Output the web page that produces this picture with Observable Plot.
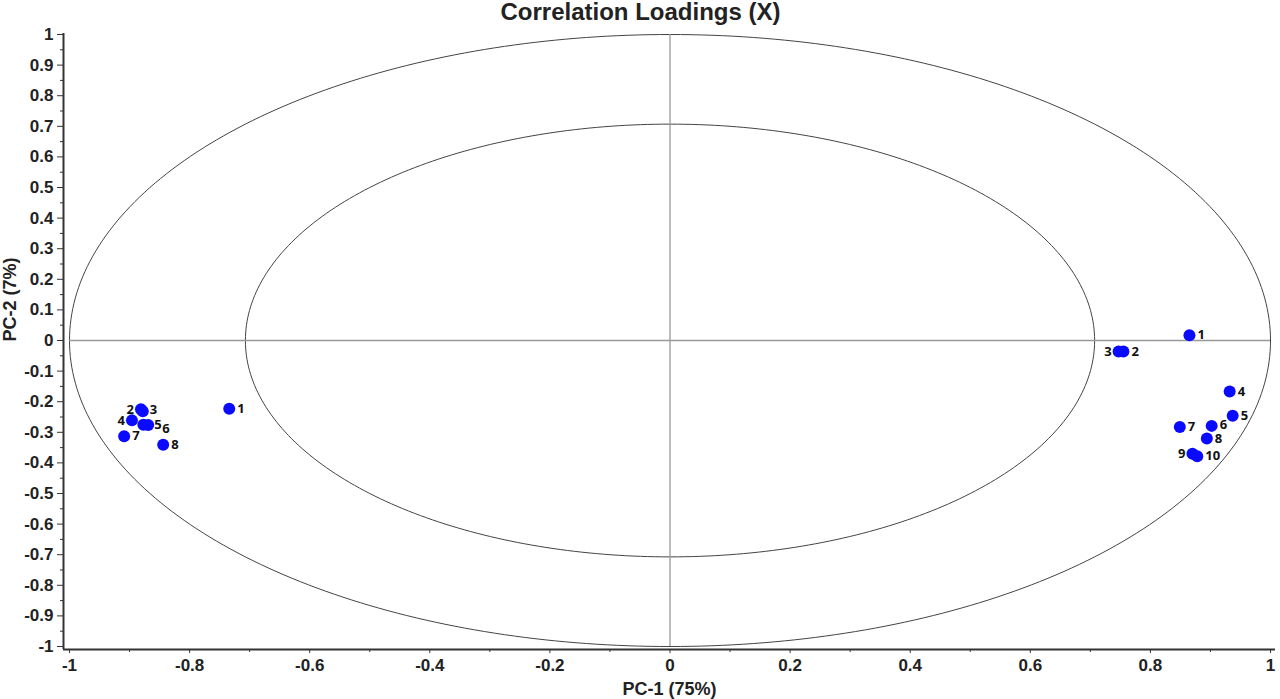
<!DOCTYPE html>
<html><head><meta charset="utf-8">
<script src="https://cdn.jsdelivr.net/npm/d3@7"></script>
<script src="https://cdn.jsdelivr.net/npm/@observablehq/plot@0.6"></script>
<style>body{margin:0;background:#fff} #chart svg{display:block}</style>
</head><body><div id="chart"></div>
<script>
// ---- data ----
const labels = ["1","2","3","4","5","6","7","8","1","2","3","4","5","6","7","8","9","10"];
const groups = ["L","L","L","L","L","L","L","L","R","R","R","R","R","R","R","R","R","R"];
const pc1 = [-0.734,-0.881,-0.878,-0.896,-0.877,-0.869,-0.909,-0.844, 0.865,0.755,0.747,0.932,0.937,0.902,0.849,0.894,0.870,0.878];
const pc2 = [-0.223,-0.225,-0.231,-0.261,-0.275,-0.276,-0.313,-0.341, 0.017,-0.036,-0.036,-0.167,-0.246,-0.279,-0.283,-0.320,-0.370,-0.378];
const leftLabelled = new Set(["L2","L4","R3","R9"]);
const nudged = {L3: {dx: 7, dy: -1}, L5: {dx: 11, dy: 0}, L6: {dx: 14, dy: 4}, R6: {dx: 8, dy: -1.5}};

const xTicks = [-1,-0.8,-0.6,-0.4,-0.2,0,0.2,0.4,0.6,0.8,1];
const xMinorTicks = [-0.9,-0.7,-0.5,-0.3,-0.1,0.1,0.3,0.5,0.7,0.9];
const yTicks = [-1,-0.9,-0.8,-0.7,-0.6,-0.5,-0.4,-0.3,-0.2,-0.1,0,0.1,0.2,0.3,0.4,0.5,0.6,0.7,0.8,0.9,1];
const yMinorTicks = yTicks.slice(0,-1).map(v => +(v + 0.05).toFixed(2));
const circleRadii = [1, Math.SQRT1_2];

const title = "Correlation Loadings (X)";
const xLabel = "PC-1 (75%)";
const yLabel = "PC-2 (7%)";

// ---- build ----
const points = labels.map((l, i) => ({key: groups[i] + l, label: l, x: pc1[i], y: pc2[i]}));
const circles = [];
for (const r of circleRadii) for (let a = 0; a <= 360; a += 1) {
  circles.push({r, x: r * Math.cos(a * Math.PI / 180), y: r * Math.sin(a * Math.PI / 180)});
}
const fmt = d => String(+d.toFixed(2));
const xDomain = [-1.01, 1.0083];
const yDomain = [-1.0098, 1.0033];
const sans = "Liberation Sans, Arial, sans-serif";
const tickFont = {fontSize: 17, fontWeight: "bold", fill: "#222", fontFamily: sans};
const labelFont = {fontSize: 13, fontWeight: "bold", fontFamily: "Open Sans, DejaVu Sans, sans-serif", fill: "#111"};

const rightPts = points.filter(p => !leftLabelled.has(p.key) && !nudged[p.key]);
const leftPts = points.filter(p => leftLabelled.has(p.key));
const nudgeMarks = Object.entries(nudged).map(([k, o]) =>
  Plot.text(points.filter(p => p.key === k), {x: "x", y: "y", text: "label", dx: o.dx, dy: o.dy, textAnchor: "start", ...labelFont}));

const chart = Plot.plot({
  width: 1280, height: 699,
  marginLeft: 63, marginRight: 5, marginTop: 33, marginBottom: 50,
  x: {domain: xDomain, axis: null},
  y: {domain: yDomain, axis: null},
  style: {background: "#fff", overflow: "visible"},
  marks: [
    Plot.line(circles, {x: "x", y: "y", z: "r", stroke: "#444", strokeWidth: 1}),
    Plot.ruleX([0], {y1: -1, y2: 1, stroke: "#999", strokeWidth: 1.3}),
    Plot.ruleY([0], {x1: -1, x2: 1, stroke: "#999", strokeWidth: 1.3}),
    Plot.ruleX([xDomain[0]], {stroke: "#333", strokeWidth: 2}),
    Plot.ruleY([yDomain[0]], {stroke: "#333", strokeWidth: 2}),
    Plot.axisX({ticks: xTicks, tickFormat: fmt, tickSize: 4, tickPadding: 5, stroke: "#333", ...tickFont, label: null}),
    Plot.axisX({ticks: xMinorTicks, tickFormat: () => "", tickSize: 3, stroke: "#333", label: null}),
    Plot.axisY({ticks: yTicks, tickFormat: fmt, tickSize: 6, tickPadding: 4, stroke: "#333", ...tickFont, label: null}),
    Plot.axisY({ticks: yMinorTicks, tickFormat: () => "", tickSize: 3, stroke: "#333", label: null}),
    Plot.dot(points, {x: "x", y: "y", r: 6, fill: "#0a0aff", stroke: "none"}),
    Plot.text(rightPts, {x: "x", y: "y", text: "label", dx: 8, textAnchor: "start", ...labelFont}),
    Plot.text(leftPts, {x: "x", y: "y", text: "label", dx: -7, textAnchor: "end", ...labelFont}),
    ...nudgeMarks,
    Plot.text([title], {frameAnchor: "top", dx: -29, dy: -14, lineAnchor: "bottom",
      fontSize: 24, fontWeight: "bold", fill: "#222", fontFamily: sans}),
    Plot.text([xLabel], {frameAnchor: "bottom", dy: 45, lineAnchor: "bottom",
      fontSize: 18, fontWeight: "bold", fill: "#222", fontFamily: sans}),
    Plot.text([yLabel], {frameAnchor: "left", dx: -53, rotate: -90,
      fontSize: 18, fontWeight: "bold", fill: "#222", fontFamily: sans})
  ]
});
document.getElementById("chart").appendChild(chart);
</script>
</body></html>
